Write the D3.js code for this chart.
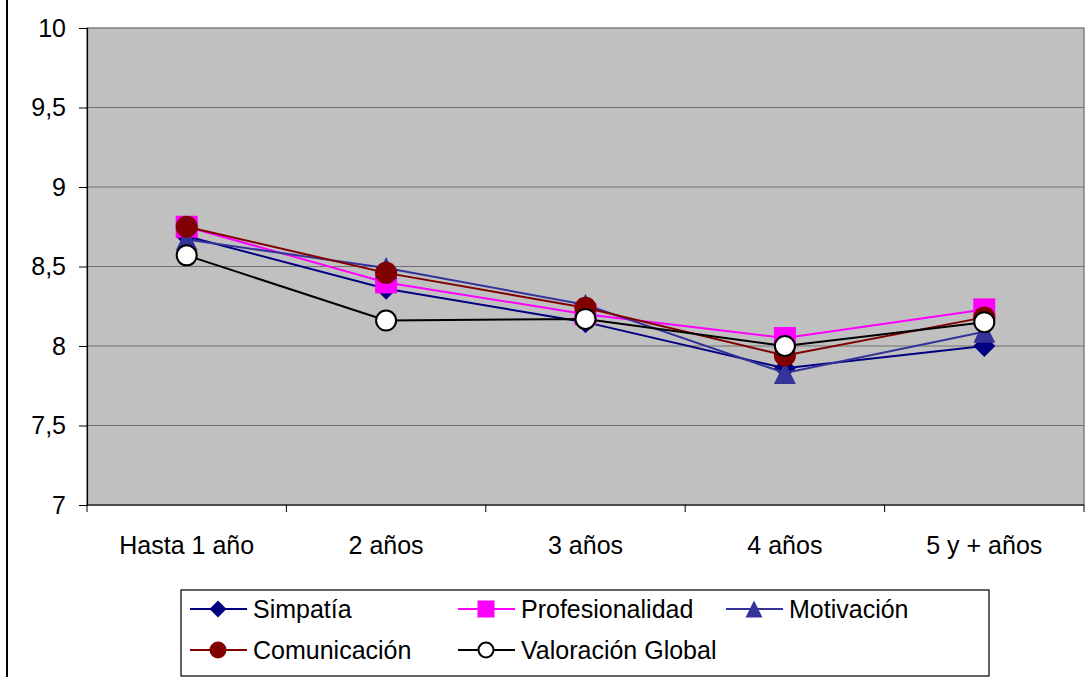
<!DOCTYPE html>
<html>
<head>
<meta charset="utf-8">
<script src="https://cdn.jsdelivr.net/npm/d3@7"></script>
<style>
  html, body { margin: 0; padding: 0; background: #fff; }
  svg { display: block; }
  text { font-family: "Liberation Sans", Arial, sans-serif; fill: #000; }
</style>
</head>
<body>
<svg id="chart" width="1088" height="677"></svg>
<script>
// Ratings by years of seniority
const categories = ["Hasta 1 año", "2 años", "3 años", "4 años", "5 y + años"];
const simpatia        = [8.69, 8.36, 8.15, 7.86, 8.00];
const profesionalidad = [8.75, 8.40, 8.20, 8.05, 8.23];
const motivacion      = [8.67, 8.49, 8.26, 7.83, 8.09];
const comunicacion    = [8.75, 8.46, 8.24, 7.94, 8.18];
const valoracion      = [8.57, 8.16, 8.17, 8.00, 8.15];
const yTicks = [7, 7.5, 8, 8.5, 9, 9.5, 10];

const series = [
  { name: "Simpatía",          values: simpatia,        color: "#000080", marker: "diamond" },
  { name: "Profesionalidad",   values: profesionalidad, color: "#FF00FF", marker: "square" },
  { name: "Motivación",        values: motivacion,      color: "#333399", marker: "triangle" },
  { name: "Comunicación",      values: comunicacion,    color: "#800000", marker: "circle" },
  { name: "Valoración Global", values: valoracion,      color: "#000000", marker: "ring" }
];

const svg = d3.select("#chart");
const plot = { left: 87, right: 1084, top: 28, bottom: 505 };
const fontSize = 25;

const x = d3.scaleBand().domain(categories).range([plot.left, plot.right]);
const y = d3.scaleLinear().domain([7, 10]).range([plot.bottom, plot.top]);

// outer frame line on the left
svg.append("line").attr("x1", 7).attr("x2", 7).attr("y1", 0).attr("y2", 677)
  .attr("stroke", "#000").attr("stroke-width", 2);

// plot area
svg.append("rect")
  .attr("x", plot.left).attr("y", plot.top)
  .attr("width", plot.right - plot.left).attr("height", plot.bottom - plot.top)
  .attr("fill", "#C0C0C0").attr("stroke", "#808080").attr("stroke-width", 1.5);

// horizontal gridlines
svg.append("g").selectAll("line").data(yTicks.slice(1, -1)).join("line")
  .attr("x1", plot.left).attr("x2", plot.right)
  .attr("y1", d => y(d)).attr("y2", d => y(d))
  .attr("stroke", "#707070").attr("stroke-width", 1);

const fmt = d => d3.format("")(d).replace(".", ",");

// y axis
const yAxis = svg.append("g").attr("transform", `translate(${plot.left},0)`)
  .call(d3.axisLeft(y).tickValues(yTicks).tickFormat(fmt).tickSize(8).tickPadding(13));
yAxis.select(".domain").attr("stroke", "#000").attr("stroke-width", 1.2);
yAxis.selectAll(".tick line").attr("stroke", "#000");
yAxis.selectAll("text").attr("font-size", fontSize)
  .attr("font-family", "Liberation Sans, Arial, sans-serif").attr("fill", "#000");

// x axis: ticks at band boundaries, labels centered in bands
const xg = svg.append("g").attr("transform", `translate(0,${plot.bottom})`);
xg.append("line").attr("x1", plot.left).attr("x2", plot.right).attr("stroke", "#000").attr("stroke-width", 1.2);
const bounds = categories.map(c => x(c)).concat([x(categories[categories.length - 1]) + x.bandwidth()]);
xg.selectAll("line.tk").data(bounds).join("line").attr("class", "tk")
  .attr("x1", d => d).attr("x2", d => d).attr("y1", 0).attr("y2", 7).attr("stroke", "#000");
xg.selectAll("text").data(categories).join("text")
  .attr("x", d => x(d) + x.bandwidth() / 2).attr("y", 40).attr("dy", "0.35em")
  .attr("text-anchor", "middle").attr("font-size", fontSize).text(d => d);

function drawMarker(g, type, color, size) {
  const s = size;
  if (type === "diamond") {
    g.append("path").attr("d", `M0,${-s}L${s},0L0,${s}L${-s},0Z`).attr("fill", color);
  } else if (type === "square") {
    g.append("rect").attr("x", -s).attr("y", -s).attr("width", 2 * s).attr("height", 2 * s).attr("fill", color);
  } else if (type === "triangle") {
    g.append("path").attr("d", `M0,${-s}L${s},${s}L${-s},${s}Z`).attr("fill", color);
  } else if (type === "circle") {
    g.append("circle").attr("r", s).attr("fill", color);
  } else if (type === "ring") {
    g.append("circle").attr("r", s - 1).attr("fill", "#fff").attr("stroke", color).attr("stroke-width", 2);
  }
}

const line = d3.line()
  .x((d, i) => x(categories[i]) + x.bandwidth() / 2)
  .y(d => y(d));

series.forEach(s => {
  const g = svg.append("g");
  g.append("path").datum(s.values).attr("d", line)
    .attr("fill", "none").attr("stroke", s.color).attr("stroke-width", 2);
  s.values.forEach((v, i) => {
    const m = g.append("g")
      .attr("transform", `translate(${x(categories[i]) + x.bandwidth() / 2},${y(v)})`);
    drawMarker(m, s.marker, s.color, 11);
  });
});

// legend
const legend = svg.append("g");
legend.append("rect").attr("x", 181).attr("y", 590).attr("width", 808).attr("height", 86)
  .attr("fill", "#fff").attr("stroke", "#000").attr("stroke-width", 1.2);
const legendPos = [
  { x: 190, y: 609 }, { x: 458, y: 609 }, { x: 726, y: 609 },
  { x: 190, y: 650 }, { x: 458, y: 650 }
];
series.forEach((s, i) => {
  const p = legendPos[i];
  const g = legend.append("g");
  g.append("line").attr("x1", p.x).attr("x2", p.x + 57).attr("y1", p.y).attr("y2", p.y)
    .attr("stroke", s.color).attr("stroke-width", 2);
  const m = g.append("g").attr("transform", `translate(${p.x + 28},${p.y})`);
  drawMarker(m, s.marker, s.color, 8.5);
  g.append("text").attr("x", p.x + 63).attr("y", p.y).attr("dy", "0.35em")
    .attr("font-size", fontSize).text(s.name);
});
</script>
</body>
</html>
